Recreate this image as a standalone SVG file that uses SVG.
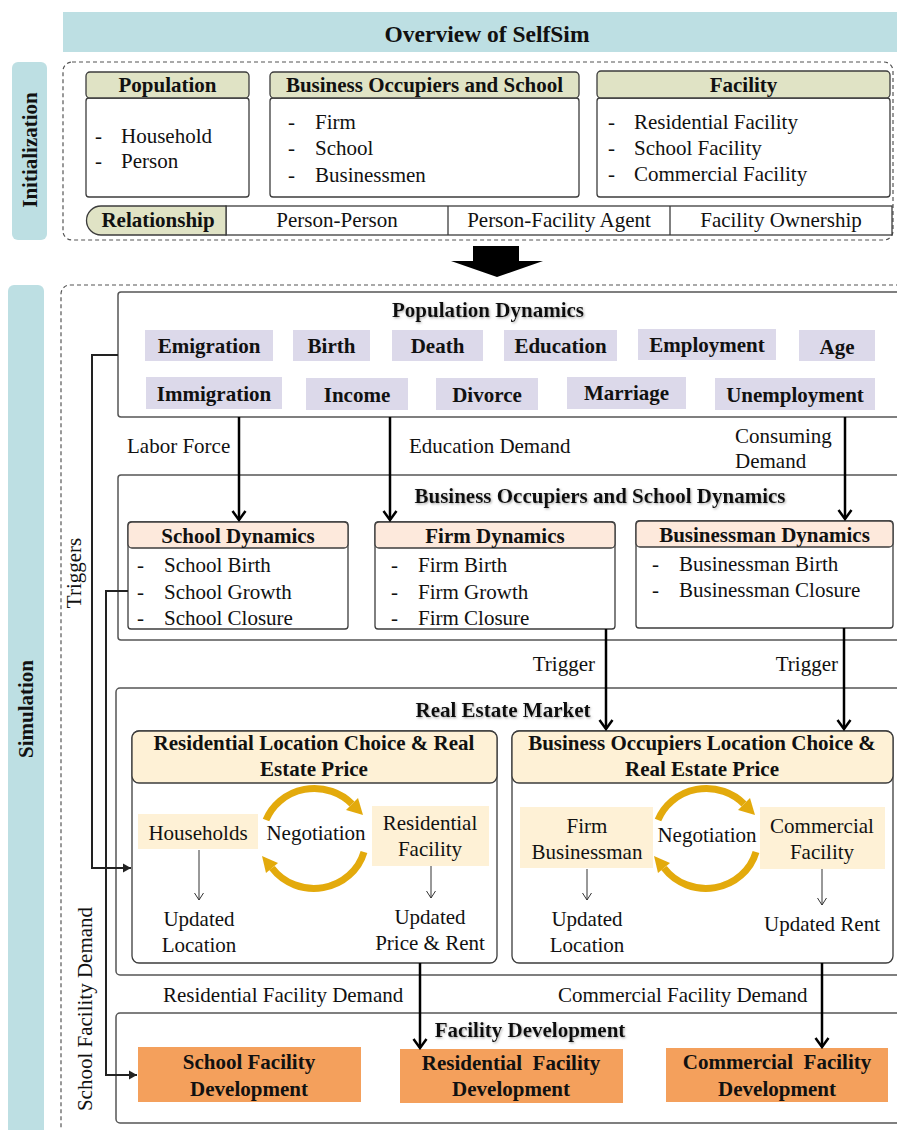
<svg xmlns="http://www.w3.org/2000/svg" width="897" height="1130" viewBox="0 0 897 1130" font-family="Liberation Serif, DejaVu Serif, serif">
<style>
text{font-family:'Liberation Serif','DejaVu Serif',serif;font-size:21px;fill:#111}
.b{font-weight:bold}
.c{text-anchor:middle}
.e{text-anchor:end}
.box{fill:#fff;stroke:#3c3c3c;stroke-width:1.3}
.sec{fill:#fff;stroke:#555;stroke-width:1.5}
.dash{fill:none;stroke:#555;stroke-width:1.2;stroke-dasharray:4 3}
.olive{fill:#e0e3c5;stroke:#3c3c3c;stroke-width:1.3}
.peach{fill:#fde9dc;stroke:#3c3c3c;stroke-width:1.3}
.cream{fill:#fef1d6;stroke:#3c3c3c;stroke-width:1.3}
.creamf{fill:#fef1d6}
.tag{fill:#dcd9ea}
.teal{fill:#bddfe3}
.orange{fill:#f4a05c}
.thick{fill:none;stroke:#000;stroke-width:2.5;marker-end:url(#chev)}
.trig{fill:none;stroke:#222;stroke-width:2;marker-end:url(#tri)}
.thin{fill:none;stroke:#333;stroke-width:1;marker-end:url(#vthin)}
.gold{fill:none;stroke:#e3aa0c;stroke-width:7}
.goldh{fill:#e3aa0c}
</style>
<defs>
<marker id="chev" markerUnits="userSpaceOnUse" viewBox="-12 -9 14 18" markerWidth="14" markerHeight="18" refX="0" refY="0" orient="auto">
<path d="M-9,-6.5 L0,0 L-9,6.5" fill="none" stroke="#000" stroke-width="2.5"/>
</marker>
<marker id="tri" markerUnits="userSpaceOnUse" viewBox="-9 -5 10 10" markerWidth="10" markerHeight="10" refX="0" refY="0" orient="auto">
<path d="M-8,-4.5 L0,0 L-8,4.5 Z" fill="#222"/>
</marker>
<marker id="vthin" markerUnits="userSpaceOnUse" viewBox="-8 -6 9 12" markerWidth="9" markerHeight="12" refX="0" refY="0" orient="auto">
<path d="M-7,-4.5 L0,0 L-7,4.5" fill="none" stroke="#333" stroke-width="1"/>
</marker>
<filter id="sh" x="-5%" y="-20%" width="110%" height="150%">
<feDropShadow dx="1" dy="1.2" stdDeviation="0.8" flood-color="#777" flood-opacity="0.6"/>
</filter>
</defs>

<g id="title">
<rect class="teal" x="63" y="12" width="840" height="40"/>
<text class="b c" x="487" y="42" style="font-size:23.5px">Overview of SelfSim</text>
</g>

<g id="initialization-label">
<rect class="teal" x="12" y="62" width="35" height="178" rx="6"/>
<text class="b c" transform="translate(37,150) rotate(-90)">Initialization</text>
</g>

<g id="initialization">
<rect class="dash" x="63" y="62" width="830" height="178" rx="9"/>
</g>

<g id="population">
<rect class="box" x="86" y="98" width="163" height="99" rx="3"/>
<rect class="olive" x="86" y="72" width="163" height="26" rx="4"/>
<text class="b c" x="167.5" y="92">Population</text>
<text x="95" y="143">-</text><text x="121" y="143">Household</text>
<text x="95" y="168">-</text><text x="121" y="168">Person</text>
</g>

<g id="business-occupiers-school">
<rect class="box" x="270" y="98" width="309" height="99" rx="3"/>
<rect class="olive" x="270" y="72" width="309" height="26" rx="4"/>
<text class="b c" x="424.5" y="92">Business Occupiers and School</text>
<text x="288" y="129">-</text><text x="315" y="129">Firm</text>
<text x="288" y="155">-</text><text x="315" y="155">School</text>
<text x="288" y="182">-</text><text x="315" y="182">Businessmen</text>
</g>

<g id="facility">
<rect class="box" x="597" y="98" width="293" height="99" rx="3"/>
<rect class="olive" x="597" y="71" width="293" height="27" rx="4"/>
<text class="b c" x="743.5" y="92">Facility</text>
<text x="608" y="129">-</text><text x="634" y="129">Residential Facility</text>
<text x="608" y="155">-</text><text x="634" y="155">School Facility</text>
<text x="608" y="181">-</text><text x="634" y="181">Commercial Facility</text>
</g>

<g id="relationship">
<rect class="box" x="226" y="206" width="666" height="29"/>
<line x1="448" y1="206" x2="448" y2="235" stroke="#3c3c3c" stroke-width="1.3"/>
<line x1="670" y1="206" x2="670" y2="235" stroke="#3c3c3c" stroke-width="1.3"/>
<path class="olive" d="M226,206 L101,206 A14.5,14.5 0 0 0 86.5,220.5 A14.5,14.5 0 0 0 101,235 L226,235 Z"/>
<text class="b c" x="158" y="227">Relationship</text>
<text class="c" x="337" y="227">Person-Person</text>
<text class="c" x="559" y="227">Person-Facility Agent</text>
<text class="c" x="781" y="227">Facility Ownership</text>
</g>

<g id="big-arrow">
<path d="M473,246 H519 V261 H543 L497,277 L451,261 H473 Z" fill="#000"/>
</g>

<g id="simulation-label">
<rect class="teal" x="8" y="285" width="36" height="860" rx="6"/>
<text class="b c" transform="translate(33,709) rotate(-90)">Simulation</text>
</g>

<g id="simulation">
<rect class="dash" x="61" y="285" width="860" height="870" rx="9"/>
<text class="c" transform="translate(81,573) rotate(-90)">Triggers</text>
<text class="c" transform="translate(92,1009) rotate(-90)">School Facility Demand</text>
</g>

<g id="population-dynamics">
<rect class="sec" x="118" y="292" width="800" height="125" rx="3"/>
<text class="b c" x="488" y="317" filter="url(#sh)">Population Dynamics</text>
<rect class="tag" x="145" y="330" width="128" height="31"/><text class="b c" x="209" y="353">Emigration</text>
<rect class="tag" x="293" y="330" width="77" height="31"/><text class="b c" x="331.5" y="353">Birth</text>
<rect class="tag" x="392" y="330" width="91" height="31"/><text class="b c" x="437.5" y="353">Death</text>
<rect class="tag" x="504" y="330" width="113" height="31"/><text class="b c" x="560.5" y="353">Education</text>
<rect class="tag" x="638" y="329" width="138" height="31"/><text class="b c" x="707" y="352">Employment</text>
<rect class="tag" x="799" y="330" width="76" height="31"/><text class="b c" x="837" y="354">Age</text>
<rect class="tag" x="146" y="377" width="136" height="32"/><text class="b c" x="214" y="401">Immigration</text>
<rect class="tag" x="306" y="378" width="102" height="32"/><text class="b c" x="357" y="402">Income</text>
<rect class="tag" x="436" y="378" width="102" height="32"/><text class="b c" x="487" y="402">Divorce</text>
<rect class="tag" x="567" y="377" width="119" height="32"/><text class="b c" x="626.5" y="400">Marriage</text>
<rect class="tag" x="715" y="378" width="160" height="32"/><text class="b c" x="795" y="402">Unemployment</text>
</g>

<g id="business-dynamics">
<rect class="sec" x="118" y="475" width="800" height="165" rx="3"/>
<text class="b c" x="600" y="503" filter="url(#sh)">Business Occupiers and School Dynamics</text>
</g>

<g id="school-dynamics">
<rect class="box" x="128" y="522" width="220" height="107" rx="3"/>
<rect class="peach" x="128" y="522" width="220" height="26" rx="4"/>
<text class="b c" x="238" y="543">School Dynamics</text>
<text x="137" y="572">-</text><text x="164" y="572">School Birth</text>
<text x="137" y="599">-</text><text x="164" y="599">School Growth</text>
<text x="137" y="625">-</text><text x="164" y="625">School Closure</text>
</g>

<g id="firm-dynamics">
<rect class="box" x="375" y="522" width="240" height="107" rx="3"/>
<rect class="peach" x="375" y="522" width="240" height="26" rx="4"/>
<text class="b c" x="495" y="543">Firm Dynamics</text>
<text x="391" y="572">-</text><text x="418" y="572">Firm Birth</text>
<text x="391" y="599">-</text><text x="418" y="599">Firm Growth</text>
<text x="391" y="625">-</text><text x="418" y="625">Firm Closure</text>
</g>

<g id="businessman-dynamics">
<rect class="box" x="636" y="521" width="257" height="107" rx="3"/>
<rect class="peach" x="636" y="521" width="257" height="26" rx="4"/>
<text class="b c" x="764.5" y="542">Businessman Dynamics</text>
<text x="652" y="571">-</text><text x="679" y="571">Businessman Birth</text>
<text x="652" y="597">-</text><text x="679" y="597">Businessman Closure</text>
</g>

<g id="real-estate-market">
<rect class="sec" x="116" y="688" width="800" height="287" rx="4"/>
<text class="b c" x="503" y="717" filter="url(#sh)">Real Estate Market</text>
</g>

<g id="residential-location">
<rect class="box" x="132" y="731" width="365" height="232" rx="7"/>
<rect class="cream" x="132" y="731" width="365" height="52" rx="7"/>
<text class="b c" x="314" y="750">Residential Location Choice &amp; Real</text>
<text class="b c" x="314" y="776">Estate Price</text>
<rect class="creamf" x="138" y="814" width="120" height="35"/>
<text class="c" x="198" y="840">Households</text>
<rect class="creamf" x="372" y="806" width="117" height="60"/>
<text class="c" x="430" y="830">Residential</text>
<text class="c" x="430" y="856">Facility</text>
<text class="c" x="316" y="840">Negotiation</text>
<path class="gold" d="M266,820 A52,50 0 0 1 352,804"/>
<path class="goldh" d="M346,810 L358,798 L363,815 Z"/>
<path class="gold" d="M364,852 A52,50 0 0 1 272,868"/>
<path class="goldh" d="M278,863 L266,873 L262,856 Z"/>
<text class="c" x="199" y="926">Updated</text>
<text class="c" x="199" y="952">Location</text>
<text class="c" x="430" y="924">Updated</text>
<text class="c" x="430" y="950">Price &amp; Rent</text>
</g>

<g id="business-location">
<rect class="box" x="512" y="731" width="381" height="232" rx="7"/>
<rect class="cream" x="512" y="731" width="381" height="52" rx="7"/>
<text class="b c" x="702" y="750">Business Occupiers Location Choice &amp;</text>
<text class="b c" x="702" y="776">Real Estate Price</text>
<rect class="creamf" x="520" y="807" width="133" height="61"/>
<text class="c" x="587" y="833">Firm</text>
<text class="c" x="587" y="859">Businessman</text>
<rect class="creamf" x="760" y="807" width="125" height="62"/>
<text class="c" x="822" y="833">Commercial</text>
<text class="c" x="822" y="859">Facility</text>
<text class="c" x="707" y="842">Negotiation</text>
<path class="gold" d="M658,820 A52,50 0 0 1 744,804"/>
<path class="goldh" d="M738,810 L750,798 L755,815 Z"/>
<path class="gold" d="M756,852 A52,50 0 0 1 664,868"/>
<path class="goldh" d="M670,863 L658,873 L654,856 Z"/>
<text class="c" x="587" y="926">Updated</text>
<text class="c" x="587" y="952">Location</text>
<text class="c" x="822" y="931">Updated Rent</text>
</g>

<g id="facility-development">
<rect class="sec" x="116" y="1013" width="800" height="110" rx="4"/>
<text class="b c" x="530" y="1037" filter="url(#sh)">Facility Development</text>
</g>

<g id="school-facility-development">
<rect class="orange" x="138" y="1047" width="223" height="55"/>
<text class="b c" x="249" y="1069">School Facility</text>
<text class="b c" x="249" y="1096">Development</text>
</g>

<g id="residential-facility-development">
<rect class="orange" x="400" y="1049" width="223" height="54"/>
<text class="b c" x="511" y="1070" style="white-space:pre">Residential  Facility</text>
<text class="b c" x="511" y="1096">Development</text>
</g>

<g id="commercial-facility-development">
<rect class="orange" x="666" y="1048" width="222" height="54"/>
<text class="b c" x="777" y="1069" style="white-space:pre">Commercial  Facility</text>
<text class="b c" x="777" y="1096">Development</text>
</g>

<g id="connectors">
<line class="thick" x1="239" y1="417" x2="239" y2="520"/>
<line class="thick" x1="390" y1="417" x2="390" y2="520"/>
<line class="thick" x1="845" y1="417" x2="845" y2="519"/>
<line class="thick" x1="606" y1="629" x2="606" y2="729"/>
<line class="thick" x1="844" y1="628" x2="844" y2="729"/>
<line class="thick" x1="420" y1="963" x2="420" y2="1048"/>
<line class="thick" x1="822" y1="963" x2="822" y2="1047"/>
<path class="trig" d="M118,355 H92 V868 H131"/>
<path class="trig" d="M128,591 H106 V1075 H137"/>
<line class="thin" x1="199" y1="850" x2="199" y2="900"/>
<line class="thin" x1="431" y1="866" x2="431" y2="898"/>
<line class="thin" x1="587" y1="869" x2="587" y2="900"/>
<line class="thin" x1="822" y1="869" x2="822" y2="905"/>
<text x="127" y="453">Labor Force</text>
<text x="409" y="453">Education Demand</text>
<text x="735" y="443">Consuming</text>
<text x="735" y="468">Demand</text>
<text class="e" x="595" y="671">Trigger</text>
<text class="e" x="838" y="671">Trigger</text>
<text x="163" y="1002">Residential Facility Demand</text>
<text x="558" y="1002">Commercial Facility Demand</text>
</g>
</svg>
